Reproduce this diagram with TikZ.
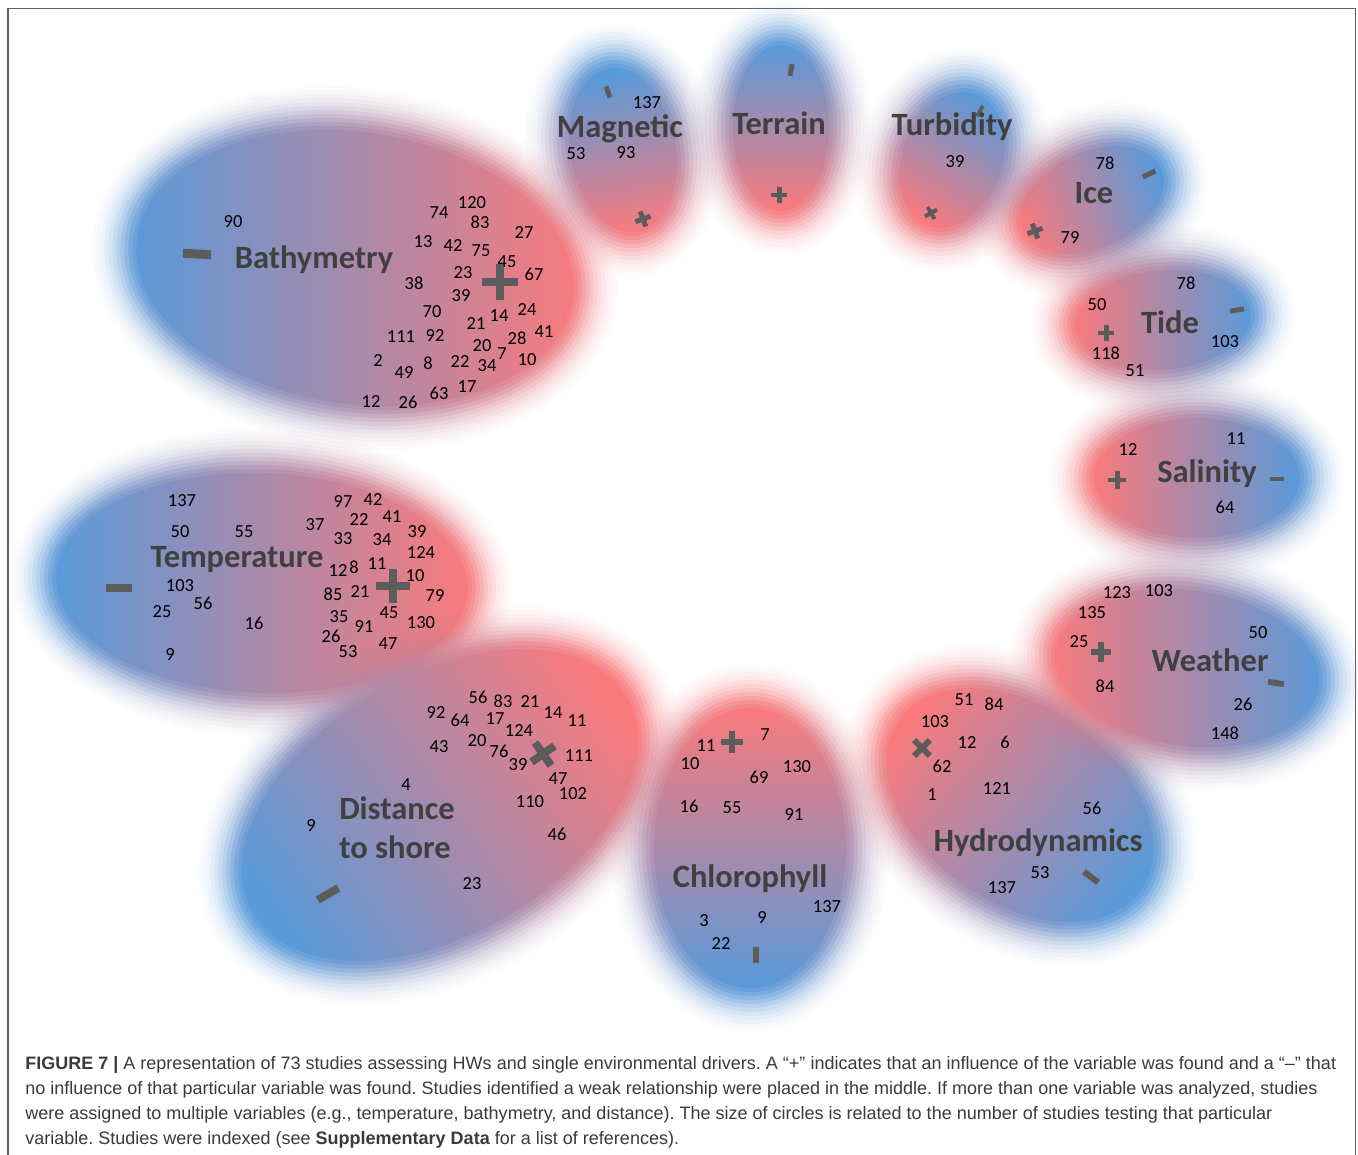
\documentclass[tikz,border=0pt]{standalone}
\usepackage{fontspec}
\setmainfont{Carlito}
\newfontfamily\capfont{Liberation Sans}
\usepackage{tikz}
\definecolor{hwblue}{RGB}{88,154,218}
\definecolor{hwred}{RGB}{250,122,124}
\definecolor{signgray}{RGB}{92,92,92}
\definecolor{lblgray}{RGB}{64,64,64}
\definecolor{capgray}{RGB}{58,58,58}
\definecolor{framegray}{RGB}{100,100,100}
% soft blob: x, y, x radius, y radius, rotation, shading angle
\newcommand{\blob}[6]{%
	\begin{scope}[shift={(#1,#2)},rotate=#5]
		\foreach \hg/\ho in {32/0.03,28/0.04,24/0.05,20/0.07,16/0.09,12/0.12,8/0.16,4/0.22,0/0.3,-4/0.4,-8/0.5}
			\shade[opacity=\ho,left color=hwblue,right color=hwred,shading angle=#6] (0,0) ellipse ({#3+\hg} and {#4+\hg});
		\shade[left color=hwblue,right color=hwred,shading angle=#6] (0,0) ellipse ({#3-12} and {#4-12});
	\end{scope}}
% x, y, half length, thickness, rotation
\newcommand{\plussign}[5]{%
	\begin{scope}[shift={(#1,#2)},rotate=#5]
		\draw[signgray,line width=#4*0.567pt] (-#3,0)--(#3,0) (0,-#3)--(0,#3);
	\end{scope}}
\newcommand{\minussign}[5]{%
	\begin{scope}[shift={(#1,#2)},rotate=#5]
		\draw[signgray,line width=#4*0.567pt] (-#3,0)--(#3,0);
	\end{scope}}

\begin{document}
\begin{tikzpicture}[x=0.02cm,y=-0.02cm,
		lbl/.style={font=\bfseries\fontsize{18.5}{20}\selectfont,text=lblgray,inner sep=0pt},
		num/.style={font=\fontsize{10.5}{12}\selectfont,inner sep=0pt},
		capline/.style={anchor=base west,inner sep=0pt,font=\capfont\fontsize{10.25}{12}\selectfont\frenchspacing,text=capgray}]
	\useasboundingbox (0,0) rectangle (1358,1155);
	\draw[framegray,line width=1.1pt] (8,1160)--(8,8.5)--(1355.5,8.5)--(1355.5,1160);
	% blobs
	\blob{355}{268}{232}{148}{-8}{90}
	\blob{262}{583}{218}{122}{-2}{90}
	\blob{440}{805}{228}{142}{30}{125}
	\blob{750}{848}{108}{152}{0}{180}
	\blob{1020}{805}{160}{110}{-35}{230}
	\blob{1187}{668}{145}{90}{-8}{270}
	\blob{1197}{478}{115}{72}{0}{270}
	\blob{1163}{320}{100}{62}{5}{270}
	\blob{1092}{200}{88}{60}{25}{290}
	\blob{952}{160}{62}{82}{-20}{-30}
	\blob{781}{128}{60}{95}{0}{0}
	\blob{623}{150}{65}{95}{10}{10}
	% signs
	\minussign{197}{254}{14}{9}{-3}
	\plussign{500}{282}{18}{9}{0}
	\minussign{119}{588}{13}{8}{0}
	\plussign{393}{586}{17}{9}{0}
	\plussign{543}{754}{14}{8}{35}
	\minussign{328}{894}{12}{8}{30}
	\plussign{732}{742}{11}{6}{0}
	\minussign{756}{955}{8}{6}{90}
	\plussign{922}{748}{11}{6}{45}
	\minussign{1091}{877}{9}{6}{-37}
	\plussign{1101}{652}{10}{6}{0}
	\minussign{1276}{683}{8}{6}{-8}
	\plussign{1117}{480}{9}{5}{0}
	\minussign{1277}{479}{7}{5}{0}
	\plussign{1106}{333}{8}{5}{0}
	\minussign{1237}{310}{7}{5}{10}
	\plussign{1035}{231}{8}{5}{20}
	\minussign{1149}{174}{7}{5}{25}
	\plussign{931}{213}{7}{4}{30}
	\minussign{980}{111}{6}{4}{60}
	\plussign{779}{195}{8}{5}{0}
	\minussign{791}{70}{6}{5}{80}
	\plussign{643}{219}{8}{5}{20}
	\minussign{608}{92}{6}{5}{110}
	% labels
	\node[lbl] (bathy) at (314,260) {Bathymetry};
	\node[lbl] (temp) at (237,560) {Temperature};
	\node[lbl] (dist) at (397,808) {Distance};
	\node[lbl] (shore) at (395,847) {to shore};
	\node[lbl] (chloro) at (750,879) {Chlorophyll};
	\node[lbl] (hydro) at (1038,843) {Hydrodynamics};
	\node[lbl] (weather) at (1210,660) {Weather};
	\node[lbl] (salin) at (1207,474) {Salinity};
	\node[lbl] (tide) at (1170,322) {Tide};
	\node[lbl] (ice) at (1094,193) {Ice};
	\node[lbl] (turb) at (952,127) {Turbidity};
	\node[lbl] (terr) at (779,123) {Terrain};
	\node[lbl] (magn) at (620,129) {Magnetic};
	% Bathymetry
	\node[num] (ba90) at (233,222) {90};
	\node[num] (ba74) at (439,213) {74};
	\node[num] (ba120) at (472,203) {120};
	\node[num] (ba83) at (480,222) {83};
	\node[num] (ba27) at (524,233) {27};
	\node[num] (ba13) at (423,242) {13};
	\node[num] (ba42) at (453,246) {42};
	\node[num] (ba75) at (481,251) {75};
	\node[num] (ba45) at (507,262) {45};
	\node[num] (ba23) at (463,273) {23};
	\node[num] (ba67) at (534,274) {67};
	\node[num] (ba38) at (414,283) {38};
	\node[num] (ba39) at (461,296) {39};
	\node[num] (ba70) at (432,312) {70};
	\node[num] (ba14) at (499,316) {14};
	\node[num] (ba24) at (527,310) {24};
	\node[num] (ba21) at (476,324) {21};
	\node[num] (ba111) at (401,337) {111};
	\node[num] (ba92) at (435,336) {92};
	\node[num] (ba28) at (517,338) {28};
	\node[num] (ba41) at (544,332) {41};
	\node[num] (ba20) at (482,346) {20};
	\node[num] (ba7) at (502,354) {7};
	\node[num] (ba2) at (378,361) {2};
	\node[num] (ba8) at (428,363) {8};
	\node[num] (ba22) at (460,362) {22};
	\node[num] (ba34) at (487,366) {34};
	\node[num] (ba10) at (527,360) {10};
	\node[num] (ba49) at (404,373) {49};
	\node[num] (ba63) at (439,393) {63};
	\node[num] (ba17) at (467,387) {17};
	\node[num] (ba12) at (371,402) {12};
	\node[num] (ba26) at (408,402) {26};
	% Temperature
	\node[num] (te137) at (182,501) {137};
	\node[num] (te50) at (180,532) {50};
	\node[num] (te55) at (244,532) {55};
	\node[num] (te103) at (180,586) {103};
	\node[num] (te56) at (203,603) {56};
	\node[num] (te25) at (162,612) {25};
	\node[num] (te16) at (254,623) {16};
	\node[num] (te9) at (170,655) {9};
	\node[num] (te97) at (343,502) {97};
	\node[num] (te42) at (373,500) {42};
	\node[num] (te22) at (359,520) {22};
	\node[num] (te41) at (392,517) {41};
	\node[num] (te37) at (315,525) {37};
	\node[num] (te33) at (343,539) {33};
	\node[num] (te34) at (382,540) {34};
	\node[num] (te39) at (417,532) {39};
	\node[num] (te124) at (421,553) {124};
	\node[num] (te12) at (338,571) {12};
	\node[num] (te8) at (354,567) {8};
	\node[num] (te11) at (377,564) {11};
	\node[num] (te10) at (415,576) {10};
	\node[num] (te85) at (333,594) {85};
	\node[num] (te21) at (360,592) {21};
	\node[num] (te79) at (435,596) {79};
	\node[num] (te35) at (339,617) {35};
	\node[num] (te45) at (389,613) {45};
	\node[num] (te91) at (364,627) {91};
	\node[num] (te130) at (421,623) {130};
	\node[num] (te26) at (331,636) {26};
	\node[num] (te47) at (388,644) {47};
	\node[num] (te53) at (348,652) {53};
	% Distance to shore
	\node[num] (di56) at (478,697) {56};
	\node[num] (di83) at (503,701) {83};
	\node[num] (di21) at (530,702) {21};
	\node[num] (di92) at (436,713) {92};
	\node[num] (di64) at (460,720) {64};
	\node[num] (di17) at (495,719) {17};
	\node[num] (di14) at (553,713) {14};
	\node[num] (di11) at (577,721) {11};
	\node[num] (di124) at (519,731) {124};
	\node[num] (di43) at (439,747) {43};
	\node[num] (di20) at (477,741) {20};
	\node[num] (di76) at (499,751) {76};
	\node[num] (di39) at (518,765) {39};
	\node[num] (di111) at (579,756) {111};
	\node[num] (di47) at (558,779) {47};
	\node[num] (di102) at (573,794) {102};
	\node[num] (di4) at (406,785) {4};
	\node[num] (di110) at (530,802) {110};
	\node[num] (di9) at (311,826) {9};
	\node[num] (di46) at (557,834) {46};
	\node[num] (di23) at (472,884) {23};
	% Chlorophyll
	\node[num] (ch11) at (706,746) {11};
	\node[num] (ch7) at (765,735) {7};
	\node[num] (ch10) at (690,764) {10};
	\node[num] (ch69) at (759,777) {69};
	\node[num] (ch130) at (797,767) {130};
	\node[num] (ch16) at (689,806) {16};
	\node[num] (ch55) at (732,808) {55};
	\node[num] (ch91) at (794,815) {91};
	\node[num] (ch137) at (827,907) {137};
	\node[num] (ch3) at (704,921) {3};
	\node[num] (ch9) at (762,918) {9};
	\node[num] (ch22) at (721,944) {22};
	% Hydrodynamics
	\node[num] (hy51) at (964,700) {51};
	\node[num] (hy84) at (994,704) {84};
	\node[num] (hy103) at (935,722) {103};
	\node[num] (hy12) at (967,743) {12};
	\node[num] (hy6) at (1005,742) {6};
	\node[num] (hy62) at (942,766) {62};
	\node[num] (hy1) at (932,795) {1};
	\node[num] (hy121) at (997,789) {121};
	\node[num] (hy56) at (1092,808) {56};
	\node[num] (hy53) at (1040,873) {53};
	\node[num] (hy137) at (1002,888) {137};
	% Weather
	\node[num] (we123) at (1117,593) {123};
	\node[num] (we103) at (1159,591) {103};
	\node[num] (we135) at (1092,613) {135};
	\node[num] (we25) at (1079,642) {25};
	\node[num] (we84) at (1105,686) {84};
	\node[num] (we50) at (1258,633) {50};
	\node[num] (we26) at (1243,704) {26};
	\node[num] (we148) at (1225,733) {148};
	% Salinity
	\node[num] (sa12) at (1128,450) {12};
	\node[num] (sa11) at (1236,439) {11};
	\node[num] (sa64) at (1225,507) {64};
	% Tide
	\node[num] (ti78) at (1186,283) {78};
	\node[num] (ti50) at (1097,305) {50};
	\node[num] (ti118) at (1106,353) {118};
	\node[num] (ti51) at (1135,371) {51};
	\node[num] (ti103) at (1225,342) {103};
	% Ice
	\node[num] (ic78) at (1105,163) {78};
	\node[num] (ic79) at (1070,238) {79};
	% Turbidity
	\node[num] (tu39) at (955,162) {39};
	% Magnetic
	\node[num] (ma137) at (647,103) {137};
	\node[num] (ma53) at (576,154) {53};
	\node[num] (ma93) at (626,153) {93};
	% caption
	\node[capline] (cap1) at (25,1069) {\textbf{FIGURE 7 |} A representation of 73 studies assessing HWs and single environmental drivers. A “+” indicates that an influence of the variable was found and a “–” that};
	\node[capline] (cap2) at (25,1094) {no influence of that particular variable was found. Studies identified a weak relationship were placed in the middle. If more than one variable was analyzed, studies};
	\node[capline] (cap3) at (25,1119) {were assigned to multiple variables (e.g., temperature, bathymetry, and distance). The size of circles is related to the number of studies testing that particular};
	\node[capline] (cap4) at (25,1144) {variable. Studies were indexed (see \textbf{Supplementary Data} for a list of references).};
\end{tikzpicture}
\end{document}
